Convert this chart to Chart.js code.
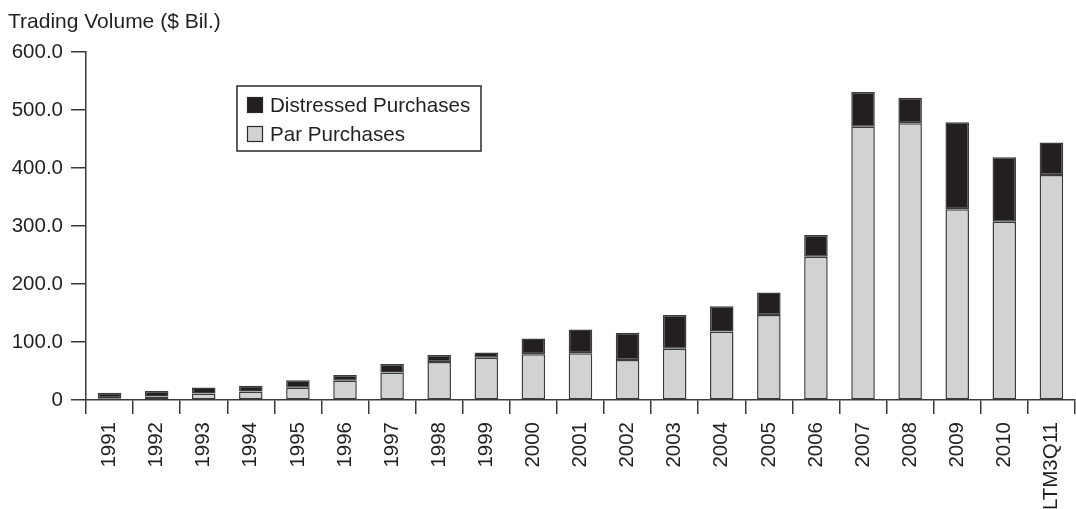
<!DOCTYPE html>
<html>
<head>
<meta charset="utf-8">
<script src="https://cdn.jsdelivr.net/npm/chart.js@4"></script>
<style>
html,body{margin:0;padding:0;background:#fff;overflow:hidden;width:1076px;height:509px;}
#wrap{position:relative;width:1084px;height:509px;}
</style>
</head>
<body>
<div id="wrap"><canvas id="c" width="1084" height="509"></canvas></div>
<script>
const categories = ['1991','1992','1993','1994','1995','1996','1997','1998','1999','2000','2001','2002','2003','2004','2005','2006','2007','2008','2009','2010','LTM3Q11'];
const parPurchases = [3, 6, 11, 14.5, 21, 33, 47.5, 65.5, 73, 79, 80.5, 69, 88.5, 118, 146.5, 247, 471, 477, 329, 307.5, 388];
const distressedPurchases = [9.5, 9.5, 10.5, 10, 13, 10, 14.5, 12, 9, 27, 41, 47, 58, 43.5, 39, 37.5, 60, 44, 150, 111, 56];
const yTickLabels = ['0','100.0','200.0','300.0','400.0','500.0','600.0'];
const yAxisTitle = 'Trading Volume ($ Bil.)';

const FONT = 'Liberation Sans, Arial, Helvetica, sans-serif';
const INK = '#231f20';

const legendPlugin = {
  id: 'boxLegend',
  afterDraw(chart) {
    const ctx = chart.ctx;
    ctx.save();
    ctx.font = '21px ' + FONT;
    ctx.fillStyle = INK;
    ctx.textAlign = 'left';
    ctx.textBaseline = 'middle';
    ctx.fillText(yAxisTitle, 8, 22);
    ctx.strokeStyle = '#2a2a2a';
    ctx.lineWidth = 1.5;
    ctx.strokeRect(237, 86, 244, 65);
    const items = [chart.data.datasets[1], chart.data.datasets[0]];
    const rows = [105, 134];
    items.forEach((ds, i) => {
      const y = rows[i];
      ctx.fillStyle = ds.backgroundColor;
      ctx.fillRect(247.5, y - 7.5, 15, 15);
      ctx.strokeStyle = '#2a2a2a';
      ctx.lineWidth = 1.2;
      ctx.strokeRect(247.5, y - 7.5, 15, 15);
      ctx.fillStyle = INK;
      ctx.font = '20.6px ' + FONT;
      ctx.fillText(ds.label, 270, y + 1);
    });
    ctx.restore();
  }
};

new Chart(document.getElementById('c'), {
  type: 'bar',
  data: {
    labels: categories,
    datasets: [
      { label: 'Par Purchases', data: parPurchases, backgroundColor: '#d1d2d4', borderColor: '#3c3c3c', borderWidth: 1.5, borderSkipped: false },
      { label: 'Distressed Purchases', data: distressedPurchases, backgroundColor: '#231f20', borderColor: '#3c3c3c', borderWidth: 1.5, borderSkipped: false }
    ]
  },
  options: {
    responsive: false,
    animation: false,
    devicePixelRatio: 1,
    layout: { padding: { top: 52, right: 0, left: 0, bottom: 0 } },
    datasets: { bar: { barPercentage: 0.5, categoryPercentage: 1 } },
    plugins: { legend: { display: false }, tooltip: { enabled: false } },
    scales: {
      x: {
        stacked: true,
        offset: true,
        grid: { offset: true, drawOnChartArea: false, drawTicks: true, tickLength: 14, color: '#3a3a3a', lineWidth: 1.5 },
        border: { display: true, color: '#3a3a3a', width: 1.5 },
        ticks: { autoSkip: false, maxRotation: 90, minRotation: 90, padding: 8, color: INK, font: { family: FONT, size: 20.5 } },
        afterFit(scale) { scale.height = 109; }
      },
      y: {
        stacked: true,
        min: 0, max: 600,
        grid: { drawOnChartArea: false, drawTicks: true, tickLength: 15, color: '#3a3a3a', lineWidth: 1.5 },
        border: { display: true, color: '#3a3a3a', width: 1.5 },
        ticks: { stepSize: 100, padding: 8, color: INK, font: { family: FONT, size: 20.5 },
          callback: (v, i) => yTickLabels[i] },
        afterFit(scale) { scale.width = 86; }
      }
    }
  },
  plugins: [legendPlugin]
});
</script>
</body>
</html>
